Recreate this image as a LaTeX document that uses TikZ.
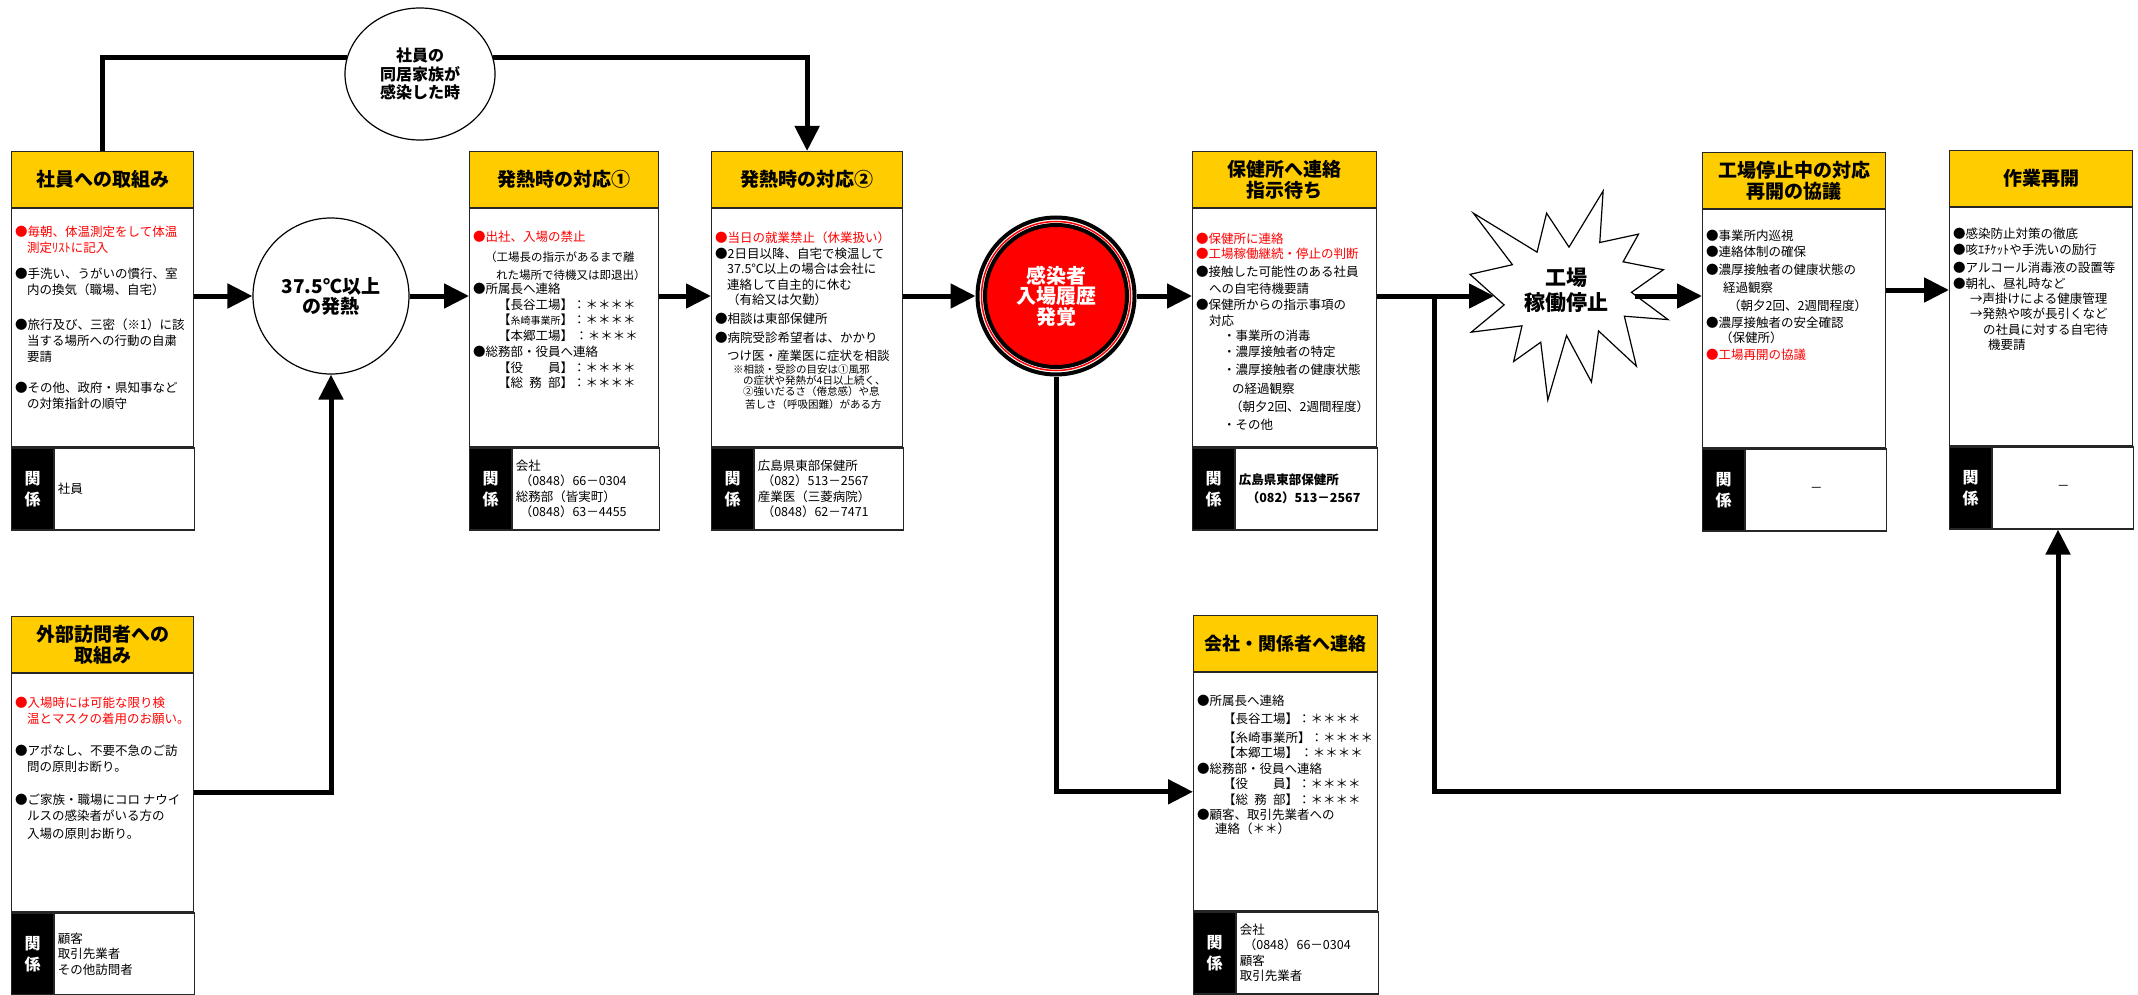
\documentclass[tikz,border=0pt]{standalone}
\usepackage{fontspec}
\setmainfont{Noto Sans CJK JP}
\usetikzlibrary{arrows.meta,shapes.geometric,positioning}
\definecolor{hdyellow}{HTML}{FFCC00}
\tikzset{
  head/.style={draw=black!85, line width=1.2pt, fill=hdyellow, minimum height=56pt, inner sep=2pt, align=center, anchor=north west, font=\bfseries\fontsize{19}{21}\selectfont},
  frame/.style={draw=black!85, line width=1.2pt, fill=white, minimum height=238pt, inner sep=0pt},
  strip/.style={draw=black!85, line width=1.2pt, fill=black, text=white, minimum width=42pt, minimum height=82pt, inner sep=0pt, align=center, font=\bfseries\fontsize{16}{21}\selectfont},
  rel/.style={draw=black!85, line width=1.2pt, fill=white, minimum height=82pt, inner sep=3pt, align=left, font=\fontsize{12.5}{15.5}\selectfont},
  txt/.style={inner sep=0pt, align=left, font=\fontsize{12.5}{16}\selectfont},
  bubble/.style={draw, line width=1.2pt, fill=white, align=center},
  link/.style={line width=5pt},
  >={Triangle[length=25pt,width=24pt]}
}
\begin{document}
\begin{tikzpicture}[x=1pt,y=-1pt]
\useasboundingbox (0,0) rectangle (2138,995);

\node[head, minimum width=182pt] (h1) at (11,151) {社員への取組み};
\node[frame, minimum width=182pt, below=0pt of h1] (b1) {};
\node[strip, below right=0pt and 0pt of b1.south west] (k1) {関\\係};
\node[rel, text width=134pt, right=0pt of k1] (r1) {社員};
\node[txt, below right=18pt and 4pt of b1.north west] (t1) {{\color{red}●毎朝、体温測定をして体温}\\
\hspace*{12pt}{\color{red}測定ﾘｽﾄに記入}\\[10pt]
●手洗い、うがいの慣行、室\\
\hspace*{12pt}内の換気（職場、自宅）\\[19pt]
●旅行及び、三密（※1）に該\\
\hspace*{12pt}当する場所への行動の自粛\\
\hspace*{12pt}要請\\[15pt]
●その他、政府・県知事など\\
\hspace*{12pt}の対策指針の順守};

\node[head, minimum width=182pt] (h2) at (11,616) {外部訪問者への\\取組み};
\node[frame, minimum width=182pt, below=0pt of h2] (b2) {};
\node[strip, below right=0pt and 0pt of b2.south west] (k2) {関\\係};
\node[rel, text width=134pt, right=0pt of k2] (r2) {顧客\\取引先業者\\その他訪問者};
\node[txt, below right=24pt and 4pt of b2.north west] (t2) {{\color{red}●入場時には可能な限り検}\\
\hspace*{12pt}{\color{red}温とマスクの着用のお願い。}\\[16pt]
●アポなし、不要不急のご訪\\
\hspace*{12pt}問の原則お断り。\\[17pt]
●ご家族・職場にコロ ナウイ\\
\hspace*{12pt}ルスの感染者がいる方の\\[2pt]
\hspace*{12pt}入場の原則お断り。};

\node[head, minimum width=189pt] (h3) at (469,151) {発熱時の対応①};
\node[frame, minimum width=189pt, below=0pt of h3] (b3) {};
\node[strip, below right=0pt and 0pt of b3.south west] (k3) {関\\係};
\node[rel, text width=141pt, right=0pt of k3] (r3) {会社\\\hspace*{4pt}（0848）66－0304\\総務部（皆実町）\\\hspace*{4pt}（0848）63－4455};
\node[txt, below right=23pt and 4pt of b3.north west] (t3) {{\color{red}●出社、入場の禁止}\\[4pt]
\hspace*{12pt}{\fontsize{11.5}{14}\selectfont（工場長の指示があるまで離}\\[2pt]
\hspace*{23pt}{\fontsize{11.5}{14}\selectfont れた場所で待機又は即退出）}\\[-2pt]
●所属長へ連絡\\
\hspace*{25pt}【長谷工場】：＊＊＊＊\\[-1pt]
\hspace*{25pt}【{\fontsize{10}{12}\selectfont 糸崎事業所}】：＊＊＊＊\\
\hspace*{25pt}【本郷工場】\,：＊＊＊＊\\
●総務部・役員へ連絡\\
\hspace*{25pt}【役\hspace{2em}員】：＊＊＊＊\\[-1pt]
\hspace*{25pt}【総\hspace{0.5em}務\hspace{0.5em}部】：＊＊＊＊};

\node[head, minimum width=191pt] (h4) at (711,151) {発熱時の対応②};
\node[frame, minimum width=191pt, below=0pt of h4] (b4) {};
\node[strip, below right=0pt and 0pt of b4.south west] (k4) {関\\係};
\node[rel, text width=143pt, right=0pt of k4] (r4) {広島県東部保健所\\\hspace*{4pt}（082）513－2567\\産業医（三菱病院）\\\hspace*{4pt}（0848）62－7471};
\node[txt, below right=23pt and 4pt of b4.north west] (t4) {{\color{red}●当日の就業禁止（休業扱い）}\\
●2日目以降、自宅で検温して\\[-1pt]
\hspace*{12pt}37.5℃以上の場合は会社に\\
\hspace*{12pt}連絡して自主的に休む\\[-1pt]
\hspace*{12pt}（有給又は欠勤）\\[3pt]
●相談は東部保健所\\[3pt]
●病院受診希望者は、かかり\\[2pt]
\hspace*{12pt}つけ医・産業医に症状を相談\\[-3pt]
\hspace*{18pt}{\fontsize{10.5}{12}\selectfont ※相談・受診の目安は①風邪}\\[-5pt]
\hspace*{28pt}{\fontsize{10.5}{12}\selectfont の症状や発熱が4日以上続く、}\\[-5pt]
\hspace*{28pt}{\fontsize{10.5}{12}\selectfont ②強いだるさ（倦怠感）や息}\\[-3pt]
\hspace*{30pt}{\fontsize{10.5}{12}\selectfont 苦しさ（呼吸困難）がある方}};

\node[head, minimum width=184pt] (h5) at (1192,151) {保健所へ連絡\\指示待ち};
\node[frame, minimum width=184pt, below=0pt of h5] (b5) {};
\node[strip, below right=0pt and 0pt of b5.south west] (k5) {関\\係};
\node[rel, text width=136pt, right=0pt of k5, font=\bfseries\fontsize{12.5}{18}\selectfont] (r5) {広島県東部保健所\\\hspace*{8pt}（082）513－2567};
\node[txt, below right=25pt and 4pt of b5.north west] (t5) {{\color{red}●保健所に連絡}\\[-1pt]
{\color{red}●工場稼働継続・停止の判断}\\[2pt]
●接触した可能性のある社員\\[1pt]
\hspace*{13pt}への自宅待機要請\\
●保健所からの指示事項の\\
\hspace*{13pt}対応\\[-1pt]
\hspace*{27pt}・事業所の消毒\\
\hspace*{27pt}・濃厚接触者の特定\\[2pt]
\hspace*{27pt}・濃厚接触者の健康状態\\[3pt]
\hspace*{36pt}の経過観察\\[2pt]
\hspace*{34pt}（朝夕2回、2週間程度）\\[2pt]
\hspace*{27pt}・その他};

\node[head, minimum width=184pt, font=\bfseries\fontsize{18}{21}\selectfont] (h6) at (1193,615) {会社・関係者へ連絡};
\node[frame, minimum width=184pt, below=0pt of h6] (b6) {};
\node[strip, below right=0pt and 0pt of b6.south west] (k6) {関\\係};
\node[rel, text width=136pt, right=0pt of k6] (r6) {会社\\\hspace*{4pt}（0848）66－0304\\顧客\\取引先業者};
\node[txt, below right=23pt and 4pt of b6.north west] (t6) {●所属長へ連絡\\[2pt]
\hspace*{26pt}【長谷工場】：＊＊＊＊\\[3pt]
\hspace*{26pt}【糸崎事業所】：＊＊＊＊\\[-1pt]
\hspace*{26pt}【本郷工場】\,：＊＊＊＊\\
●総務部・役員へ連絡\\[-1pt]
\hspace*{26pt}【役\hspace{2em}員】：＊＊＊＊\\
\hspace*{26pt}【総\hspace{0.5em}務\hspace{0.5em}部】：＊＊＊＊\\[-1pt]
●顧客、取引先業者への\\[-2pt]
\hspace*{18pt}連絡（＊＊）};

\node[head, minimum width=183pt] (h7) at (1702,152) {工場停止中の対応\\再開の協議};
\node[frame, minimum width=183pt, below=0pt of h7] (b7) {};
\node[strip, below right=0pt and 0pt of b7.south west] (k7) {関\\係};
\node[rel, text width=135pt, right=0pt of k7, align=center] (r7) {－};
\node[txt, below right=21pt and 4pt of b7.north west] (t7) {●事業所内巡視\\
●連絡体制の確保\\[2pt]
●濃厚接触者の健康状態の\\[2pt]
\hspace*{17pt}経過観察\\[2pt]
\hspace*{22pt}（朝夕2回、2週間程度）\\[1pt]
●濃厚接触者の安全確認\\[-1pt]
\hspace*{14pt}（保健所）\\[1pt]
{\color{red}●工場再開の協議}};

\node[head, minimum width=183pt] (h8) at (1949,150) {作業再開};
\node[frame, minimum width=183pt, below=0pt of h8] (b8) {};
\node[strip, below right=0pt and 0pt of b8.south west] (k8) {関\\係};
\node[rel, text width=135pt, right=0pt of k8, align=center] (r8) {－};
\node[txt, below right=21pt and 4pt of b8.north west] (t8) {●感染防止対策の徹底\\
●咳ｴﾁｹｯﾄや手洗いの励行\\[2pt]
●アルコール消毒液の設置等\\
●朝礼、昼礼時など\\[-1pt]
\hspace*{17pt}→声掛けによる健康管理\\[-1pt]
\hspace*{17pt}→発熱や咳が長引くなど\\
\hspace*{30pt}の社員に対する自宅待\\[-1pt]
\hspace*{35pt}機要請};

\node[bubble, ellipse, minimum width=150pt, minimum height=132pt, font=\bfseries\fontsize{16}{18.5}\selectfont] (family) at (420,74) {社員の\\同居家族が\\感染した時};
\node[bubble, circle, minimum size=156pt, font=\bfseries\fontsize{19}{20}\selectfont] (heat) at (331,296) {37.5℃以上\\の発熱};

\node[circle, draw, line width=4pt, fill=white, minimum size=157pt] (found) at (1056,296) {};
\node[circle, draw=red, line width=1.5pt, minimum size=149pt] (ring) at (found) {};
\node[circle, draw, line width=4pt, fill=red, minimum size=142pt, text=white, align=center, font=\bfseries\fontsize{20}{20.5}\selectfont] (core) at (found) {感染者\\入場履歴\\発覚};

\begin{scope}[shift={(1470,191)}, x=0.9167pt, y=-0.9676pt]
\draw[line width=1.2pt, fill=white] (108,58) -- (145.22,0) -- (141.55,53.25) -- (183.80,44.57) -- (167.02,73.15) -- (210.97,81.37) -- (176.07,104.75) -- (216,132.90) -- (168.37,129.42) -- (181.45,180.95) -- (140.20,144.57) -- (132.47,197.37) -- (105.32,149.35) -- (84.85,216) -- (77.15,156.27) -- (47.62,176.17) -- (56.67,139.37) -- (1.35,145.87) -- (37.22,117.75) -- (0,86.15) -- (46.27,76.17) -- (3.70,22.95) -- (73.12,63.20) -- (83.52,22.95) -- cycle;
\end{scope}
\node[align=center, font=\bfseries\fontsize{21}{25}\selectfont] (stop) at (1566,290) {工場\\稼働停止};
\coordinate (stopin) at (1494,296);
\coordinate (stopout) at (1635,296);
\coordinate (split) at (1434,296);
\coordinate (low) at (2058,791);

\draw[link] (h1.north) |- (family.167);
\draw[link,->] (family.13) -| (h4.north);
\draw[link,->] (b1.east |- heat) -- (heat);
\draw[link,->] (b2.east) -| (heat.south);
\draw[link,->] (heat) -- (heat -| b3.west);
\draw[link,->] (b3.east |- heat) -- (b4.west |- heat);
\draw[link,->] (b4.east |- found) -- (found);
\draw[link,->] (found) -- (found -| b5.west);
\draw[link,->] (found.south) |- (b6.west);
\draw[link,->] (b5.east |- found) -- (stopin);
\draw[link,->] (split) |- (low) -- (low |- r8.south);
\draw[link,->] (stopout) -- (b7.west |- stopout);
\draw[link,->] (b7.east |- stop) -- (b8.west |- stop);

\end{tikzpicture}
\end{document}
